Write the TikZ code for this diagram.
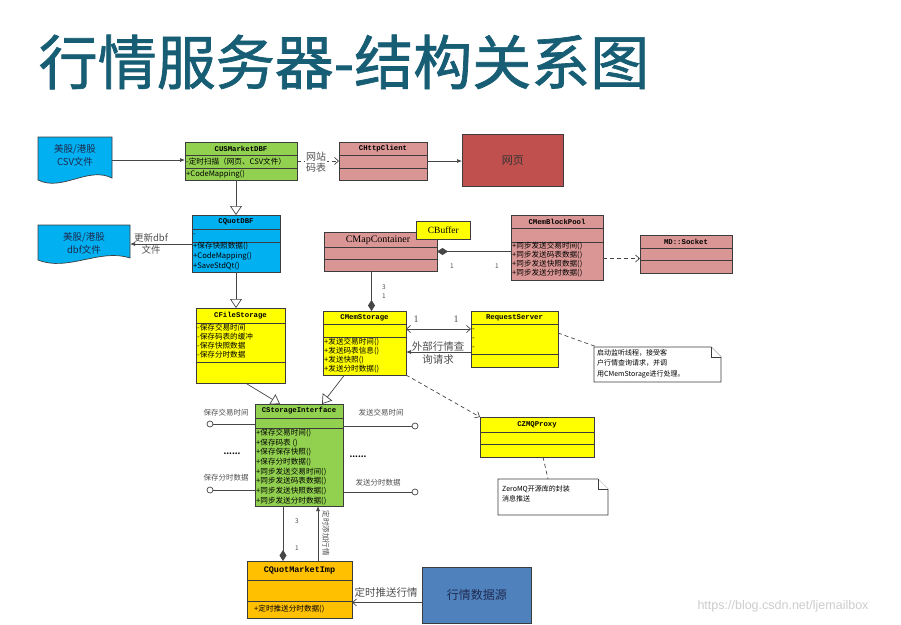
\documentclass[tikz,border=0pt]{standalone}
\usepackage{fontspec}
\setmainfont{Noto Sans CJK SC}
\newfontfamily\titlef[FakeBold=1.2]{Noto Sans CJK SC}
\newfontfamily\monof{Liberation Mono}
\newfontfamily\seriff{Liberation Serif}
\newfontfamily\sansf{Liberation Sans}
\usetikzlibrary{arrows.meta,calc}
\definecolor{titlec}{RGB}{23,94,117}
\definecolor{cgreen}{RGB}{146,208,80}
\definecolor{ccyan}{RGB}{0,176,240}
\definecolor{csalmon}{RGB}{217,150,148}
\definecolor{cred}{RGB}{192,80,77}
\definecolor{cyellow}{RGB}{255,255,0}
\definecolor{corange}{RGB}{255,192,0}
\definecolor{cblue}{RGB}{79,129,189}
\definecolor{linec}{RGB}{60,60,60}
\definecolor{connc}{RGB}{70,70,70}
\definecolor{lblc}{RGB}{80,80,80}
\definecolor{navy}{RGB}{31,42,80}
\definecolor{wmc}{RGB}{205,205,205}
\newcommand\umlcls[8]{%
  \node[cls, fill=#6, minimum width={(#4-#2)*1pt}, minimum height={(#5-#3)*1pt}, anchor=north west] (#1) at (#2,#3) {};
  \draw[clsline] (#2,#7) -- (#4,#7) (#2,#8) -- (#4,#8);}
\tikzset{
  cls/.style={draw=linec, line width=0.8pt, inner sep=0pt, outer sep=0pt},
  clsline/.style={draw=linec, line width=0.8pt},
  ctitle/.style={font=\monof\bfseries\fontsize{7.3}{8}\selectfont, inner sep=0pt},
  field/.style={font=\fontsize{7.6}{8}\selectfont, anchor=west, inner sep=0pt},
  lbl/.style={font=\fontsize{10}{11}\selectfont, text=lblc, align=center, inner sep=1pt},
  slbl/.style={font=\fontsize{7.5}{8}\selectfont, text=lblc, inner sep=0pt},
  num/.style={font=\fontsize{6.5}{7}\selectfont, text=lblc, inner sep=0pt},
  bnum/.style={font=\seriff\fontsize{10}{11}\selectfont, text=lblc, inner sep=0pt},
  conn/.style={draw=connc, line width=0.7pt},
  dconn/.style={conn, dash pattern=on 4pt off 3pt},
  farr/.style={-{Latex[length=5pt,width=4pt]}},
  oarr/.style={-{Straight Barb[length=4pt,width=7pt]}},
  boarr/.style={{Straight Barb[length=4pt,width=7pt]}-{Straight Barb[length=4pt,width=7pt]}},
  gen/.style={-{Triangle[open,length=9pt,width=12pt,fill=white]}},
  compend/.style={-{Diamond[length=11pt,width=7pt]}},
  compstart/.style={{Diamond[length=11pt,width=7pt]}-},
  doc/.style={draw=linec, line width=0.7pt, fill=ccyan},
  doctext/.style={font=\fontsize{9.5}{13}\selectfont, text=navy, align=center, inner sep=0pt},
  notebox/.style={draw=linec, line width=0.7pt, fill=white},
  notetext/.style={font=\fontsize{7}{10.5}\selectfont, align=left, inner sep=0pt, anchor=north west},
  ghost/.style={inner sep=0pt, outer sep=0pt, anchor=north west}
}
\begin{document}
\begin{tikzpicture}[x=1pt,y=-1pt]
\useasboundingbox (0,0) rectangle (901,624);
\fill[white] (0,0) rectangle (901,624);

% title
\node[font=\titlef\fontsize{59}{62}\selectfont, text=titlec, inner sep=0pt] (title) at (344,62) {行情服务器-结构关系图};

% CSV document
\node[ghost, minimum width=74pt, minimum height=46pt] (csv) at (38,137) {};
\draw[doc] (38,137) -- (112,137) -- (112,178) .. controls (88,166) and (62,192) .. (38,180) -- cycle;
\node[doctext] (csvt) at (75,155) {美股/港股\\CSV文件};

% dbf document
\node[ghost, minimum width=92pt, minimum height=38pt] (dbf) at (38,225) {};
\draw[doc] (38,225) -- (130,225) -- (130,258) .. controls (100,248) and (68,272) .. (38,260) -- cycle;
\node[doctext] (dbft) at (84,243) {美股/港股\\dbf文件};

% CUSMarketDBF
\umlcls{cusm}{185}{142}{297}{180}{cgreen}{155}{168}
\node[ctitle] (cusmT) at (241,148.5) {CUSMarketDBF};
\node[field] (cusm1) at (186,161.5) {-定时扫描（网页、CSV文件）};
\node[field] (cusm2) at (186,174) {+CodeMapping()};

% CHttpClient
\umlcls{http}{339}{142}{427}{180}{csalmon}{155}{168}
\node[ctitle] (httpT) at (383,148.5) {CHttpClient};

% web page
\node[draw=linec, line width=0.8pt, fill=cred, minimum width=101pt, minimum height=52pt, anchor=north west, font=\fontsize{11}{12}\selectfont, text=black!80] (web) at (462,134) {网页};

% CQuotDBF
\umlcls{quot}{192}{215}{280}{272}{ccyan}{229}{242}
\node[ctitle] (quotT) at (236,222) {CQuotDBF};
\node[field] (quot0) at (193,235.5) {-};
\node[field] (quot1) at (193,246.5) {+保存快照数据()};
\node[field] (quot2) at (193,256.5) {+CodeMapping()};
\node[field] (quot3) at (193,266) {+SaveStdQt()};

% CMapContainer
\umlcls{mapc}{324}{232}{437}{271}{csalmon}{247}{259}
\node[font=\seriff\fontsize{10}{11}\selectfont, inner sep=0pt] (mapcT) at (378,240) {CMapContainer};
\node[draw=linec, line width=0.7pt, fill=cyellow, minimum width=54pt, minimum height=18pt, anchor=north west, inner sep=0pt, font=\seriff\fontsize{9.5}{10}\selectfont] (cbuf) at (416,221) {CBuffer};

% CMemBlockPool
\umlcls{pool}{511}{215}{603}{280}{csalmon}{228}{242}
\node[ctitle] (poolT) at (557,221.5) {CMemBlockPool};
\node[field] (pool1) at (512,246.5) {+同步发送交易时间()};
\node[field] (pool2) at (512,255.5) {+同步发送码表数据()};
\node[field] (pool3) at (512,264.5) {+同步发送快照数据()};
\node[field] (pool4) at (512,273.5) {+同步发送分时数据()};

% MD::Socket
\umlcls{sock}{640}{235}{732}{273}{csalmon}{248}{260}
\node[ctitle] (sockT) at (686,241.5) {MD::Socket};

% CFileStorage
\umlcls{fstor}{196}{308}{285}{383}{cyellow}{323}{362}
\node[ctitle] (fstorT) at (240.5,315.5) {CFileStorage};
\node[field] (fs1) at (197,327.5) {-保存交易时间};
\node[field] (fs2) at (197,336.5) {-保存码表的缓冲};
\node[field] (fs3) at (197,345.5) {-保存快照数据};
\node[field] (fs4) at (197,354.5) {-保存分时数据};

% CMemStorage
\umlcls{memst}{323}{311}{406}{375}{cyellow}{324}{337}
\node[ctitle] (memstT) at (364.5,317.5) {CMemStorage};
\node[field] (ms1) at (324,342.5) {+发送交易时间()};
\node[field] (ms2) at (324,351.5) {+发送码表信息()};
\node[field] (ms3) at (324,360.5) {+发送快照()};
\node[field] (ms4) at (324,369.5) {+发送分时数据()};

% RequestServer
\umlcls{reqs}{471}{311}{558}{367}{cyellow}{324}{354}
\node[ctitle] (reqsT) at (514.5,317.5) {RequestServer};
\node[field] (rs1) at (472,330) {-};
\node[field] (rs2) at (472,339) {-};
\node[field] (rs3) at (472,348) {-};

% note 1
\node[ghost, minimum width=127pt, minimum height=35pt] (note1) at (594,347) {};
\draw[notebox] (594,347) -- (711,347) -- (721,357) -- (721,382) -- (594,382) -- cycle;
\draw[notebox] (711,347) -- (711,357) -- (721,357);
\node[notetext] (note1t) at (597,349) {启动监听线程，接受客\\户行情查询请求，并调\\用CMemStorage进行处理。};

% CZMQProxy
\umlcls{zmq}{480}{417}{594}{457}{cyellow}{432}{444}
\node[ctitle] (zmqT) at (537,424.5) {CZMQProxy};

% note 2
\node[ghost, minimum width=110pt, minimum height=36pt] (note2) at (498,479) {};
\draw[notebox] (498,479) -- (598,479) -- (608,489) -- (608,515) -- (498,515) -- cycle;
\draw[notebox] (598,479) -- (598,489) -- (608,489);
\node[notetext] (note2t) at (502,485) {ZeroMQ开源库的封装\\消息推送};

% CStorageInterface
\umlcls{sint}{255}{404}{343}{506}{cgreen}{418}{428}
\node[ctitle] (sintT) at (299,411) {CStorageInterface};
\node[field] (si1) at (256,433) {+保存交易时间()};
\node[field] (si2) at (256,442.7) {+保存码表 ()};
\node[field] (si3) at (256,452.4) {+保存保存快照()};
\node[field] (si4) at (256,462.1) {+保存分时数据()};
\node[field] (si5) at (256,471.8) {+同步发送交易时间()};
\node[field] (si6) at (256,481.5) {+同步发送码表数据()};
\node[field] (si7) at (256,491.2) {+同步发送快照数据()};
\node[field] (si8) at (256,500.9) {+同步发送分时数据()};

% CQuotMarketImp
\umlcls{qmi}{247}{561}{352}{618}{corange}{580}{601}
\node[ctitle, font=\monof\bfseries\fontsize{8.5}{9}\selectfont] (qmiT) at (299.5,570.5) {CQuotMarketImp};
\node[field] (qmi1) at (254,609.5) {+定时推送分时数据()};

% data source
\node[draw=linec, line width=0.8pt, fill=cblue, minimum width=109pt, minimum height=56pt, anchor=north west, font=\fontsize{12}{13}\selectfont, text=navy] (src) at (422,567) {行情数据源};

% ---------- connectors ----------
\draw[conn, farr] (csv.east) -- (csv.east -| cusm.west);
\draw[dconn, oarr] (cusm.east) -- (http.west);
\node[lbl, fill=white, font=\fontsize{10}{10.5}\selectfont] (lwz) at (316,162) {网站\\码表};
\draw[conn, farr] (http.east) -- (http.east -| web.west);
\draw[conn, gen] (quot.north |- cusm.south) -- (quot.north);
\draw[conn, farr] (quot.west |- dbf.east) -- (dbf.east);
\node[lbl, font=\fontsize{9.5}{12.5}\selectfont] (lgx) at (151,244) {更新dbf\\文件};
\draw[conn, gen] (quot.south) -- (quot.south |- fstor.north);

\draw[conn, compstart] (mapc.east) -- (mapc.east -| pool.west);
\node[num] (n1a) at (452,266) {1};
\node[num] (n1b) at (497,266) {1};
\draw[dconn, oarr] ([yshift=-11pt]pool.east) -- ([yshift=-11pt]pool.east -| sock.west);
\draw[conn, compend] ([xshift=-9pt]mapc.south) -- ([xshift=-9pt]mapc.south |- memst.north);
\node[num] (n3a) at (384,287) {3};
\node[num] (n1c) at (384,296) {1};

\draw[conn, boarr] ([yshift=14pt]memst.east) -- ([yshift=14pt]memst.east -| reqs.west);
\node[bnum] (n1d) at (416,319) {1};
\node[bnum] (n1e) at (456,319) {1};
\draw[conn, farr] ([yshift=-9pt]memst.east -| reqs.west) -- ([yshift=-9pt]memst.east);
\node[lbl, font=\fontsize{10.5}{12.5}\selectfont] (lwb) at (438,353) {外部行情查\\询请求};
\draw[dconn] ([yshift=6pt]reqs.east) -- ([xshift=3pt]note1.north west);
\draw[dconn, oarr] (memst.south east) -- (zmq.north west);
\draw[dconn] ([xshift=6pt]zmq.south) -- ([xshift=-5pt]note2.north);

\draw[conn, gen] ([xshift=5pt]fstor.south) -- ([xshift=-19pt]sint.north);
\draw[conn, gen] ([xshift=-20pt]memst.south) -- ([xshift=23pt]sint.north);

% lollipops
\coordinate (lpa) at (210,424);
\coordinate (lpb) at (210,490);
\coordinate (lpc) at (415,426);
\coordinate (lpd) at (415,492);
\draw[conn] (lpa) -- (lpa -| sint.west);
\draw[conn] (lpb) -- (lpb -| sint.west);
\draw[conn] (lpc -| sint.east) -- (lpc);
\draw[conn] (lpd -| sint.east) -- (lpd);
\draw[conn, fill=white] (lpa) circle[radius=3pt] (lpb) circle[radius=3pt] (lpc) circle[radius=3pt] (lpd) circle[radius=3pt];
\node[slbl] (la) at (226,413) {保存交易时间};
\node[slbl] (lb) at (226,478) {保存分时数据};
\node[slbl] (lc) at (381,413) {发送交易时间};
\node[slbl] (ld) at (378,483) {发送分时数据};
\node[font=\bfseries\fontsize{8}{8}\selectfont, inner sep=0pt] (dl) at (232,454) {......};
\node[font=\bfseries\fontsize{8}{8}\selectfont, inner sep=0pt] (dr) at (358,457) {......};

\draw[conn, compend] ([xshift=-16pt]sint.south) -- ([xshift=-16pt]sint.south |- qmi.north);
\node[num] (n3b) at (297,521) {3};
\node[num] (n1f) at (297,548) {1};
\draw[conn, farr] ([xshift=19pt]sint.south |- qmi.north) -- ([xshift=19pt]sint.south);
\node[slbl, rotate=-90] (ltj) at (326,533) {定时添加行情};
\draw[conn, oarr] ([yshift=-7pt]src.west) -- ([yshift=-7pt]src.west -| qmi.east);
\node[lbl, font=\fontsize{10.5}{11}\selectfont] (lts) at (386,592) {定时推送行情};

% watermark
\node[font=\sansf\fontsize{12.5}{14}\selectfont, text=wmc, inner sep=0pt] (wm) at (783,606) {https://blog.csdn.net/ljemailbox};
\end{tikzpicture}
\end{document}
